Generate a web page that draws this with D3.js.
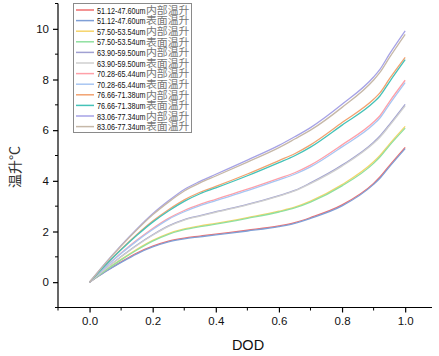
<!DOCTYPE html>
<html>
<head>
<meta charset="utf-8">
<script src="https://cdn.jsdelivr.net/npm/d3@7"></script>
<style>
  body { margin: 0; background: #fff; }
  svg { display: block; font-family: "Liberation Sans", Arial, sans-serif; }
</style>
</head>
<body>
<div id="chart"></div>
<script>
// DOD sample points
const dod = [0, 0.05, 0.1, 0.15, 0.2, 0.25, 0.3, 0.35, 0.4, 0.5, 0.6, 0.65, 0.7, 0.8, 0.9, 0.92, 0.95, 1.0];

// temperature rise values
const s51in  = [0, 0.42, 0.80, 1.15, 1.42, 1.62, 1.74, 1.82, 1.90, 2.05, 2.22, 2.35, 2.55, 3.05, 3.90, 4.15, 4.60, 5.32];
const s51out = [0, 0.41, 0.78, 1.12, 1.39, 1.59, 1.71, 1.79, 1.87, 2.02, 2.19, 2.32, 2.52, 3.01, 3.86, 4.10, 4.55, 5.27];
const s57in  = [0, 0.47, 0.90, 1.30, 1.65, 1.92, 2.10, 2.22, 2.32, 2.55, 2.80, 2.96, 3.20, 3.85, 4.75, 5.00, 5.45, 6.15];
const s57out = [0, 0.46, 0.88, 1.27, 1.62, 1.89, 2.07, 2.19, 2.29, 2.52, 2.77, 2.93, 3.16, 3.80, 4.69, 4.94, 5.39, 6.08];
const s63in  = [0, 0.53, 1.01, 1.47, 1.87, 2.22, 2.47, 2.63, 2.78, 3.07, 3.42, 3.62, 3.92, 4.62, 5.52, 5.77, 6.22, 7.02];
const s63out = [0, 0.52, 1.00, 1.45, 1.85, 2.20, 2.45, 2.61, 2.76, 3.05, 3.40, 3.60, 3.89, 4.58, 5.48, 5.72, 6.17, 6.96];
const s70in  = [0, 0.60, 1.15, 1.66, 2.12, 2.52, 2.83, 3.07, 3.27, 3.67, 4.10, 4.32, 4.62, 5.42, 6.32, 6.57, 7.12, 7.97];
const s70out = [0, 0.59, 1.13, 1.63, 2.08, 2.48, 2.78, 3.02, 3.22, 3.61, 4.04, 4.26, 4.55, 5.34, 6.23, 6.48, 7.02, 7.88];
const s76in  = [0, 0.68, 1.30, 1.88, 2.41, 2.86, 3.25, 3.55, 3.78, 4.27, 4.80, 5.07, 5.42, 6.30, 7.22, 7.47, 8.02, 8.87];
const s76out = [0, 0.67, 1.28, 1.85, 2.37, 2.81, 3.19, 3.49, 3.72, 4.20, 4.72, 4.99, 5.33, 6.20, 7.10, 7.35, 7.90, 8.78];
const s83in  = [0, 0.75, 1.45, 2.10, 2.70, 3.21, 3.66, 3.98, 4.26, 4.82, 5.40, 5.74, 6.10, 7.02, 8.10, 8.40, 9.00, 9.92];
const s83out = [0, 0.74, 1.43, 2.07, 2.66, 3.16, 3.60, 3.92, 4.19, 4.74, 5.31, 5.65, 6.00, 6.90, 7.98, 8.28, 8.86, 9.78];

const seriesNames = [
  ["51.12-47.60um", "内部温升"], ["51.12-47.60um", "表面温升"],
  ["57.50-53.54um", "内部温升"], ["57.50-53.54um", "表面温升"],
  ["63.90-59.50um", "内部温升"], ["63.90-59.50um", "表面温升"],
  ["70.28-65.44um", "内部温升"], ["70.28-65.44um", "表面温升"],
  ["76.66-71.38um", "内部温升"], ["76.66-71.38um", "表面温升"],
  ["83.06-77.34um", "内部温升"], ["83.06-77.34um", "表面温升"]
];
const seriesValues = [s51in, s51out, s57in, s57out, s63in, s63out, s70in, s70out, s76in, s76out, s83in, s83out];
const colors = ["#ef6f6f", "#7f9fd6", "#f6d46a", "#8fe0a0", "#a0a0d2", "#cfcfcf",
                "#ffa0a8", "#a8c6f2", "#f2a270", "#45c2b8", "#a6a2e6", "#c6b8a8"];

const xTicks = [0, 0.2, 0.4, 0.6, 0.8, 1.0];
const yTicks = [0, 2, 4, 6, 8, 10];

const W = 439, H = 356;
const svg = d3.select("#chart").append("svg")
    .attr("width", W)
    .attr("height", H);

// scales
const x = d3.scaleLinear().domain([-0.1, 1.085]).range([58, 432]);
const y = d3.scaleLinear().domain([-1, 11]).range([307.5, 3.5]);

// x axis
const xAxis = d3.axisBottom(x).tickValues(xTicks).tickSize(5).tickPadding(4)
    .tickFormat(d3.format(".1f"));
const gx = svg.append("g").attr("transform", "translate(0," + y(-1) + ")").call(xAxis);
gx.select(".domain").attr("d", "M" + x(-0.1) + ",0H" + x(1.085));
gx.append("g").selectAll("line")
    .data(d3.range(-1, 11, 2).map(d => d / 10))
    .join("line")
    .attr("x1", d => x(d)).attr("x2", d => x(d))
    .attr("y1", 0).attr("y2", 3)
    .attr("stroke", "#000");

// y axis
const yAxis = d3.axisLeft(y).tickValues(yTicks).tickSize(5).tickPadding(4);
const gy = svg.append("g").attr("transform", "translate(" + x(-0.1) + ",0)").call(yAxis);
gy.select(".domain").attr("d", "M0," + y(-1) + "V" + y(11));
gy.append("g").selectAll("line")
    .data([-1, 1, 3, 5, 7, 9, 11])
    .join("line")
    .attr("x1", 0).attr("x2", -3)
    .attr("y1", d => y(d)).attr("y2", d => y(d))
    .attr("stroke", "#000");

svg.selectAll(".tick text").attr("font-size", 11.5).attr("fill", "#111")
    .style("font-family", "'Liberation Sans', Arial, sans-serif");
svg.selectAll(".domain, .tick line").attr("stroke", "#000").attr("stroke-width", 1.2);

// axis titles
svg.append("text")
    .attr("x", 248).attr("y", 350)
    .attr("text-anchor", "middle")
    .attr("font-size", 14.5)
    .attr("fill", "#111")
    .text("DOD");

svg.append("text")
    .attr("transform", "translate(20,167) rotate(-90)")
    .attr("text-anchor", "middle")
    .attr("font-size", 14)
    .attr("fill", "#333")
    .style("font-family", "'Noto Sans CJK SC', 'Liberation Sans', sans-serif")
    .text("温升°C");

// lines
const line = d3.line()
    .x((d, i) => x(dod[i]))
    .y(d => y(d))
    .curve(d3.curveMonotoneX);

svg.append("g").selectAll("path")
    .data(seriesValues)
    .join("path")
    .attr("d", d => line(d))
    .attr("fill", "none")
    .attr("stroke", (d, i) => colors[i])
    .attr("stroke-width", 1.3);

// legend
const rowY = i => 10 + i * 10.6;
const lg = svg.append("g");
lg.append("rect")
    .attr("x", 73.5).attr("y", 3.5)
    .attr("width", 118).attr("height", 129)
    .attr("fill", "#fff")
    .attr("stroke", "#8a8a8a")
    .attr("stroke-width", 1);

lg.selectAll("line")
    .data(seriesNames)
    .join("line")
    .attr("x1", 76).attr("x2", 94)
    .attr("y1", (d, i) => rowY(i)).attr("y2", (d, i) => rowY(i))
    .attr("stroke", (d, i) => colors[i])
    .attr("stroke-width", 1.5);

// size labels, one text block
lg.append("text")
    .attr("font-size", 9.6)
    .attr("fill", "#111")
    .style("font-family", "'Liberation Sans Narrow', 'Liberation Sans', sans-serif")
    .selectAll("tspan")
    .data(seriesNames)
    .join("tspan")
    .attr("x", 97)
    .attr("y", (d, i) => rowY(i) + 3.5)
    .attr("textLength", 48.5)
    .attr("lengthAdjust", "spacingAndGlyphs")
    .text(d => d[0]);

// 内部/表面 part, one text block
lg.append("text")
    .attr("font-size", 10.4)
    .attr("fill", "#777")
    .style("font-family", "'Noto Sans CJK SC', sans-serif")
    .selectAll("tspan")
    .data(seriesNames)
    .join("tspan")
    .attr("x", 146)
    .attr("y", (d, i) => rowY(i) + 3.8)
    .attr("textLength", 43.5)
    .attr("lengthAdjust", "spacingAndGlyphs")
    .text(d => d[1]);
</script>
</body>
</html>
